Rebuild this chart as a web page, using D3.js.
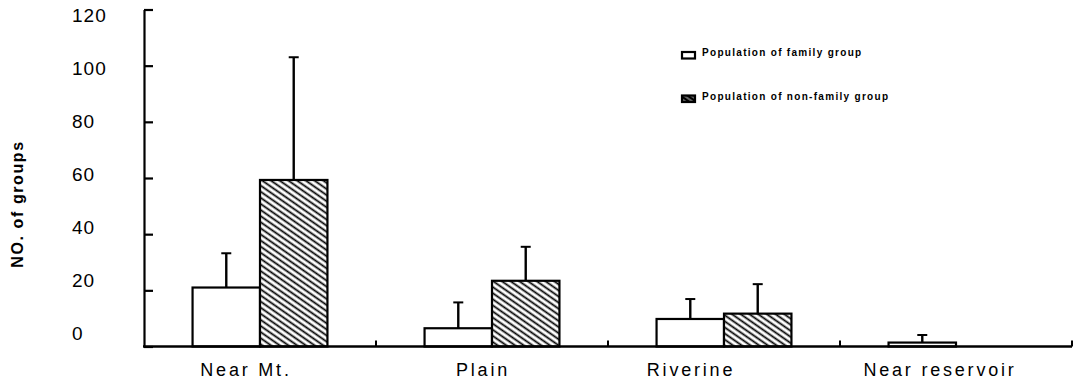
<!DOCTYPE html>
<html>
<head>
<meta charset="utf-8">
<script src="https://cdn.jsdelivr.net/npm/d3@7"></script>
<style>
  html, body { margin: 0; padding: 0; background: #fff; }
  svg { display: block; }
  text { font-family: Arial, "Liberation Sans", sans-serif; fill: #000; }
</style>
</head>
<body>
<svg id="chart" width="1077" height="384"></svg>
<script>
// Habitat categories along the x axis
const categories = ["Near Mt.", "Plain", "Riverine", "Near reservoir"];
// Series names (legend order)
const seriesNames = ["Population of family group", "Population of non-family group"];
// Mean number of groups per habitat
const familyValues = [21, 6.5, 9.8, 1.4];
const nonFamilyValues = [59.3, 23.4, 11.7, 0];
// Standard deviations (upper error bars)
const familyErrors = [12.2, 9.2, 7.1, 2.7];
const nonFamilyErrors = [43.7, 12.1, 10.5, 0];
// Y axis ticks
const yTicks = [0, 20, 40, 60, 80, 100, 120];
const yTitle = "NO. of groups";

const svg = d3.select("#chart");
const plotLeft = 144, plotRight = 1072, plotTop = 9.5, plotBase = 346.5;

const defs = svg.append("defs");
// diagonal hatching for the non-family series
const hatch = defs.append("pattern")
  .attr("id", "hatch")
  .attr("patternUnits", "userSpaceOnUse")
  .attr("width", 6).attr("height", 5)
  .attr("patternTransform", "rotate(35)");
hatch.append("rect").attr("width", 6).attr("height", 5).attr("fill", "#fff");
hatch.append("line").attr("x1", 0).attr("x2", 6).attr("y1", 2.5).attr("y2", 2.5)
  .attr("stroke", "#000").attr("stroke-width", 1.8);

const hatchDense = defs.append("pattern")
  .attr("id", "hatchDense")
  .attr("patternUnits", "userSpaceOnUse")
  .attr("width", 4).attr("height", 4)
  .attr("patternTransform", "rotate(35)");
hatchDense.append("rect").attr("width", 4).attr("height", 4).attr("fill", "#000");
hatchDense.append("line").attr("x1", 0).attr("x2", 4).attr("y1", 2).attr("y2", 2)
  .attr("stroke", "#fff").attr("stroke-width", 0.8);

const y = d3.scaleLinear().domain([0, 120]).range([plotBase, plotTop]);
// tick labels sit on a slightly compressed scale of their own
const yLabel = d3.scaleLinear().domain([0, 120]).range([333, 15]);
const x = d3.scaleBand().domain(categories).range([plotLeft, plotRight]).padding(0);
const xs = d3.scaleBand().domain(seriesNames).range([0, x.bandwidth()])
  .paddingInner(0).paddingOuter(0.72);

const rows = categories.map((c, i) => ({
  cat: c,
  items: [
    { s: seriesNames[0], v: familyValues[i], e: familyErrors[i], fill: "#fff" },
    { s: seriesNames[1], v: nonFamilyValues[i], e: nonFamilyErrors[i], fill: "url(#hatch)" }
  ]
}));

// bars
const g = svg.append("g");
rows.forEach(r => {
  r.items.filter(d => d.v > 0).forEach(d => {
    const bx = x(r.cat) + xs(d.s);
    g.append("rect")
      .attr("x", bx).attr("y", y(d.v))
      .attr("width", xs.bandwidth()).attr("height", y(0) - y(d.v))
      .attr("fill", d.fill).attr("stroke", "#000").attr("stroke-width", 2.2);
    if (d.e > 0) {
      const cx = bx + xs.bandwidth() / 2;
      g.append("line").attr("x1", cx).attr("x2", cx)
        .attr("y1", y(d.v)).attr("y2", y(d.v + d.e))
        .attr("stroke", "#000").attr("stroke-width", 2.4);
      g.append("line").attr("x1", cx - 5).attr("x2", cx + 5)
        .attr("y1", y(d.v + d.e)).attr("y2", y(d.v + d.e))
        .attr("stroke", "#000").attr("stroke-width", 2);
    }
  });
});

// y axis
const yAxis = svg.append("g").attr("transform", `translate(${plotLeft},0)`)
  .call(d3.axisRight(y).tickValues(yTicks).tickSize(9).tickSizeOuter(0).tickFormat(""));
yAxis.selectAll("path, line").attr("stroke", "#000").attr("stroke-width", 2.2);

svg.append("g").selectAll("text").data(yTicks).join("text")
  .attr("x", 72).attr("y", d => yLabel(d))
  .attr("dominant-baseline", "central")
  .style("font-size", "19px").style("letter-spacing", "1px")
  .text(d => d);

// x axis line and category separators
svg.append("line").attr("x1", plotLeft - 1).attr("x2", plotRight)
  .attr("y1", y(0)).attr("y2", y(0))
  .attr("stroke", "#000").attr("stroke-width", 2.4);
svg.append("g").selectAll("line").data(categories).join("line")
  .attr("x1", d => x(d) + x.bandwidth()).attr("x2", d => x(d) + x.bandwidth())
  .attr("y1", y(0)).attr("y2", y(0) - 6)
  .attr("stroke", "#000").attr("stroke-width", 2);

// category labels, each nudged left of its band centre
const labelNudge = { "Near Mt.": -14, "Plain": -9, "Riverine": -33, "Near reservoir": -16 };
svg.append("g").selectAll("text").data(categories).join("text")
  .attr("x", d => x(d) + x.bandwidth() / 2 + labelNudge[d])
  .attr("y", 376)
  .attr("text-anchor", "middle")
  .style("font-size", "18px").style("letter-spacing", "2.8px")
  .text(d => d);

// y title
svg.append("text")
  .attr("transform", "translate(23,204) rotate(-90)")
  .attr("text-anchor", "middle")
  .style("font-size", "16px").style("font-weight", "bold").style("letter-spacing", "1.6px")
  .text(yTitle);

// legend
const legend = svg.append("g");
const legendFills = ["#fff", "url(#hatchDense)"];
const legendY = [52, 95.5];
seriesNames.forEach((s, i) => {
  legend.append("rect").attr("x", 682).attr("y", legendY[i])
    .attr("width", 13).attr("height", 6.5)
    .attr("fill", legendFills[i]).attr("stroke", "#000").attr("stroke-width", 2.2);
  legend.append("text").attr("x", 702).attr("y", legendY[i] + 4)
    .style("font-size", "10px").style("font-weight", "bold").style("letter-spacing", "1.3px")
    .text(s);
});
</script>
</body>
</html>
